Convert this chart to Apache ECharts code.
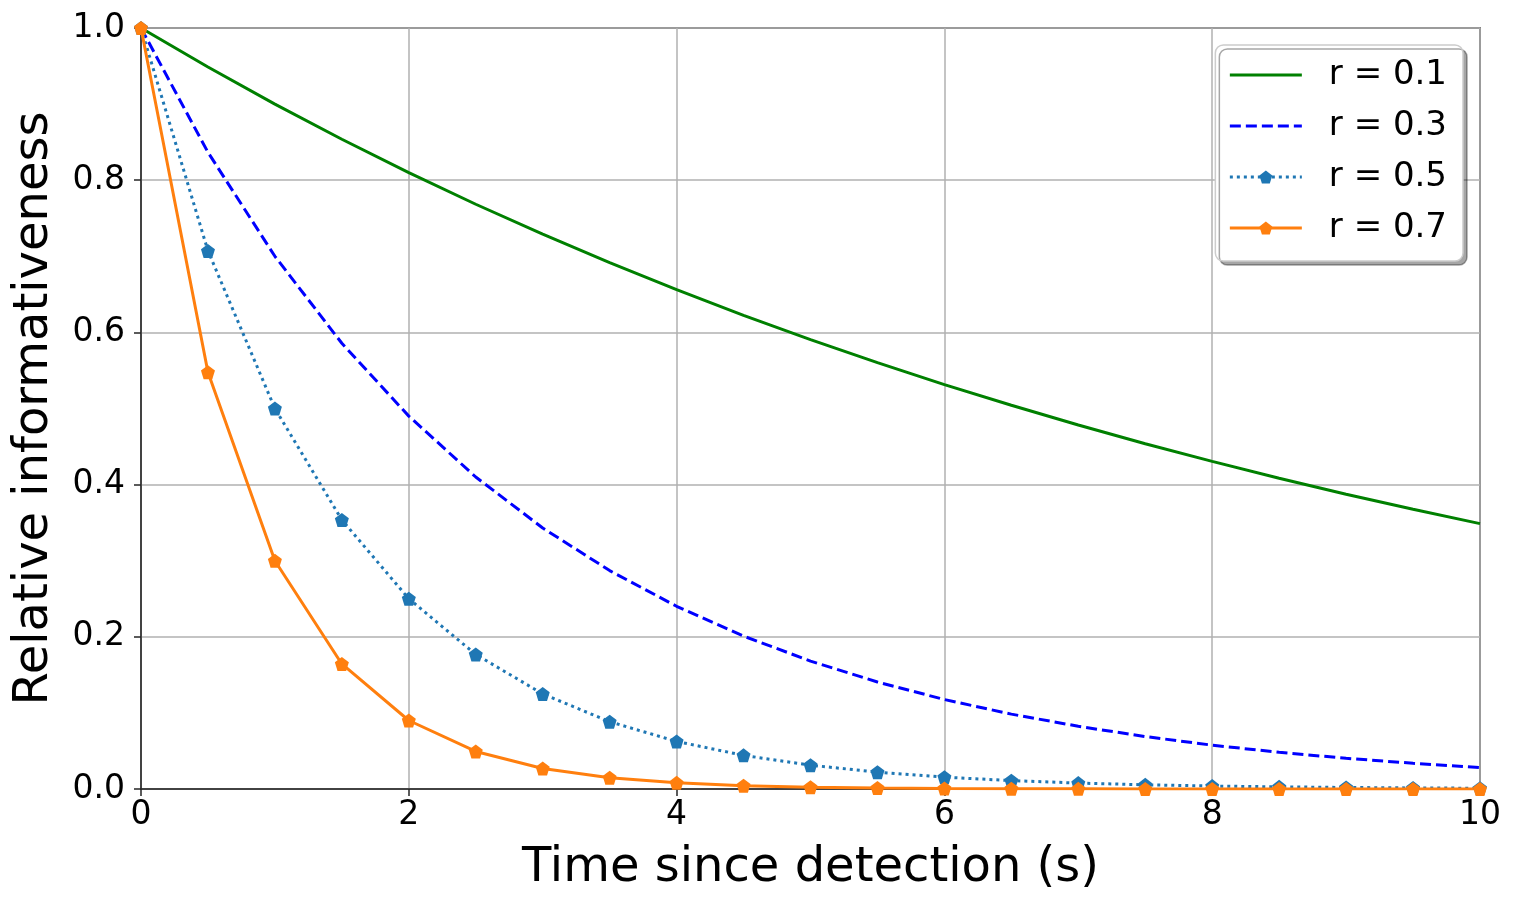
<!DOCTYPE html>
<html>
<head>
<meta charset="utf-8">
<script src="https://cdn.jsdelivr.net/npm/echarts@6/dist/echarts.min.js"></script>
<style>
html,body{margin:0;padding:0;background:#fff;}
#chart{width:1517px;height:906px;}
</style>
</head>
<body>
<div id="chart"></div>
<script>
const times = [0,0.5,1,1.5,2,2.5,3,3.5,4,4.5,5,5.5,6,6.5,7,7.5,8,8.5,9,9.5,10];
const r01 = [1,0.9487,0.9,0.8538,0.81,0.7684,0.729,0.6916,0.6561,0.6224,0.5905,0.5602,0.5314,0.5042,0.4783,0.4537,0.4305,0.4084,0.3874,0.3675,0.3487];
const r03 = [1,0.8367,0.7,0.5857,0.49,0.41,0.343,0.287,0.2401,0.2009,0.1681,0.1406,0.1176,0.0984,0.0824,0.0689,0.0576,0.0482,0.0404,0.0338,0.0282];
const r05 = [1,0.7071,0.5,0.3536,0.25,0.1768,0.125,0.0884,0.0625,0.0442,0.0313,0.0221,0.0156,0.011,0.0078,0.0055,0.0039,0.0028,0.002,0.0014,0.001];
const r07 = [1,0.5477,0.3,0.1643,0.09,0.0493,0.027,0.0148,0.0081,0.0044,0.0024,0.0013,0.0007,0.0004,0.0002,0.0001,0.0001,0.0000,0.0000,0.0000,0.0000];
const seriesNames = ['r = 0.1','r = 0.3','r = 0.5','r = 0.7'];
const xTicks = [0,2,4,6,8,10];
const yTicks = [0,0.2,0.4,0.6,0.8,1.0];

const pent = 'path://M0,-1 L0.951,-0.309 L0.588,0.809 L-0.588,0.809 L-0.951,-0.309 Z';
const pair = arr => times.map((t,i)=>[t,arr[i]]);
const font = 'DejaVu Sans';
const dark = '#262626';

const chart = echarts.init(document.getElementById('chart'), null, {renderer:'canvas'});
chart.setOption({
  backgroundColor:'#fff',
  animation:false,
  grid:{left:141,top:28,width:1339,height:761,show:true,borderColor:dark,borderWidth:1.5,backgroundColor:'transparent'},
  legend:{
    right:54, top:45, orient:'vertical',
    itemWidth:72, itemHeight:16, itemGap:17,
    padding:[13,16,16,13],
    backgroundColor:'#fff', borderColor:'#cccccc', borderWidth:1.5, borderRadius:8,
    shadowColor:'rgba(0,0,0,0.35)', shadowOffsetX:4, shadowOffsetY:4, shadowBlur:0,
    lineStyle:{width:3},
    textStyle:{fontFamily:font,fontSize:34,color:'#000',lineHeight:34,padding:[0,0,0,22]},
    data:[
      {name:seriesNames[0], itemStyle:{opacity:0}},
      {name:seriesNames[1], itemStyle:{opacity:0}},
      {name:seriesNames[2]},
      {name:seriesNames[3]}
    ]
  },
  xAxis:{
    type:'value', min:0, max:10, interval:2,
    name:'Time since detection (s)', nameLocation:'middle', nameGap:56,
    nameTextStyle:{fontFamily:font,fontSize:48,color:'#000'},
    axisLine:{show:true,onZero:false,lineStyle:{color:dark,width:1.5}},
    axisTick:{show:true,inside:false,length:7,lineStyle:{color:dark,width:1.5}},
    axisLabel:{fontFamily:font,fontSize:33,color:'#000',margin:10,
      formatter:v=> xTicks.includes(v)? String(v):''},
    splitLine:{show:true,lineStyle:{color:'#b0b0b0',width:1.5}}
  },
  yAxis:{
    type:'value', min:0, max:1, interval:0.2,
    name:'Relative informativeness', nameLocation:'middle', nameGap:82,
    nameTextStyle:{fontFamily:font,fontSize:48,color:'#000'},
    axisLine:{show:true,onZero:false,lineStyle:{color:dark,width:1.5}},
    axisTick:{show:true,inside:false,length:7,lineStyle:{color:dark,width:1.5}},
    axisLabel:{fontFamily:font,fontSize:33,color:'#000',margin:16,
      formatter:v=> yTicks.some(t=>Math.abs(t-v)<1e-9)? v.toFixed(1):''},
    splitLine:{show:true,lineStyle:{color:'#b0b0b0',width:1.5}}
  },
  series:[
    {name:seriesNames[0],type:'line',data:pair(r01),symbol:'none',clip:true,
      lineStyle:{color:'#008000',width:3},itemStyle:{color:'#008000'}},
    {name:seriesNames[1],type:'line',data:pair(r03),symbol:'none',clip:true,
      lineStyle:{color:'#0000ff',width:3,type:[11,5]},itemStyle:{color:'#0000ff'}},
    {name:seriesNames[2],type:'line',data:pair(r05),symbol:pent,symbolSize:14,showAllSymbol:true,clip:true,
      lineStyle:{color:'#1f77b4',width:3,type:[3,4]},itemStyle:{color:'#1f77b4'}},
    {name:seriesNames[3],type:'line',data:pair(r07),symbol:pent,symbolSize:14,showAllSymbol:true,clip:true,
      lineStyle:{color:'#ff7f0e',width:3},itemStyle:{color:'#ff7f0e'}}
  ]
});
</script>
</body>
</html>
